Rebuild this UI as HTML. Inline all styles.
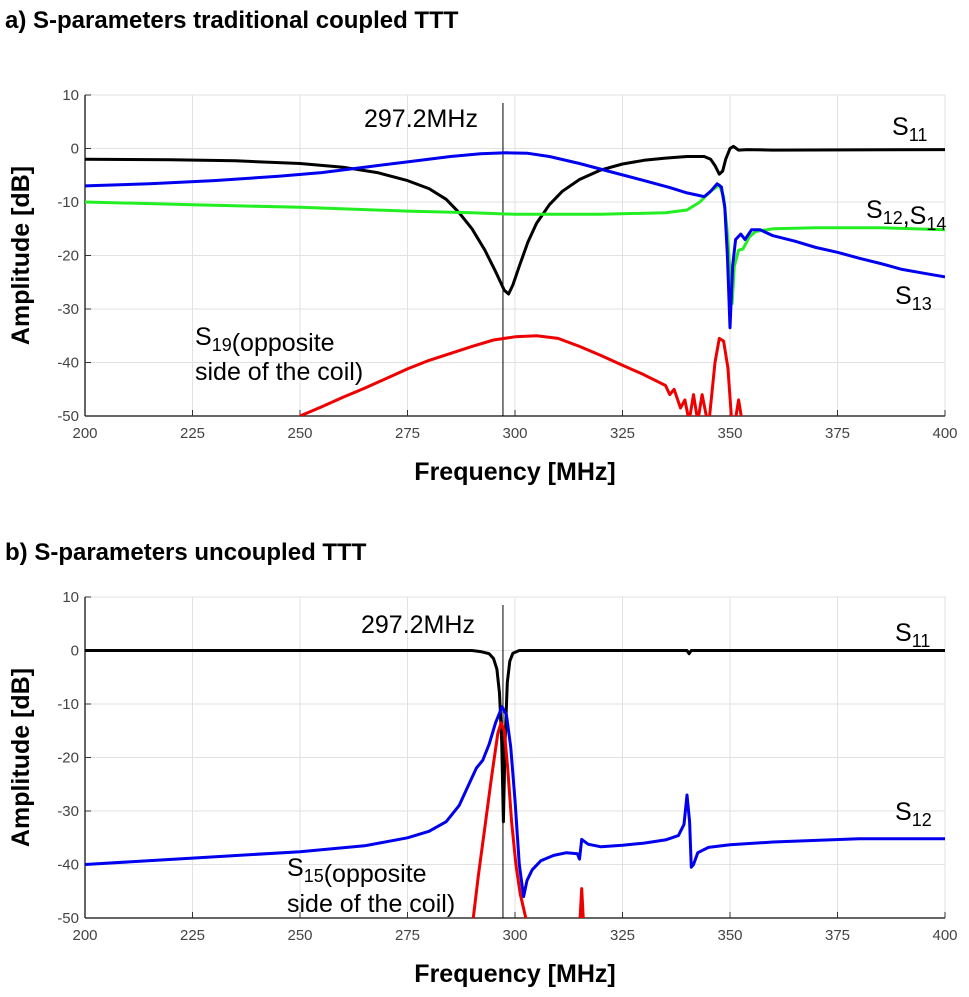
<!DOCTYPE html>
<html><head><meta charset="utf-8"><style>
body{margin:0;background:#fff;width:969px;height:997px;overflow:hidden}
svg{display:block}
.t{font-family:"Liberation Sans",sans-serif}
</style></head><body>
<svg id="s" width="969" height="997" xmlns="http://www.w3.org/2000/svg">
<text x="5" y="28" class="t" font-size="24" font-weight="bold">a) S-parameters traditional coupled TTT</text>
<text x="5" y="560" class="t" font-size="24" font-weight="bold">b) S-parameters uncoupled TTT</text>
</svg>
<script>
const xTicks=[200,225,250,275,300,325,350,375,400];
const yTicks=[10,0,-10,-20,-30,-40,-50];
const markerFreq=297.2;
const aS11=[[200,-2],[220,-2.1],[235,-2.3],[250,-2.8],[260,-3.5],[268,-4.5],[275,-6],[280,-7.5],[284,-9.5],[287,-12],[290,-15],[293,-19],[295.5,-23],[297.5,-26.5],[298.5,-27.2],[299.5,-25.5],[301,-22],[303,-17.5],[305,-14],[308,-10.5],[311,-8],[315,-5.8],[320,-4],[325,-2.9],[330,-2.2],[335,-1.8],[340,-1.5],[344,-1.5],[345.5,-2],[346.5,-3.2],[347.5,-4.8],[348.3,-4.2],[349,-2],[350,0],[350.8,0.4],[352,-0.3],[354,-0.2],[360,-0.3],[400,-0.2]];
const aS13=[[200,-7],[215,-6.6],[230,-6],[245,-5.2],[255,-4.5],[265,-3.5],[275,-2.5],[285,-1.5],[292,-1],[298,-0.8],[303,-0.9],[308,-1.5],[315,-2.8],[322,-4.3],[330,-6],[336,-7.3],[340,-8.3],[344,-9],[345.5,-8],[347,-6.6],[348,-7.2],[348.8,-11],[349.4,-20],[350,-33.5],[350.6,-22],[351.3,-17],[352.5,-16],[353.5,-17],[355,-15.2],[357,-15.2],[360,-16.3],[365,-17.3],[370,-18.5],[375,-19.4],[380,-20.5],[385,-21.5],[390,-22.6],[395,-23.3],[400,-24]];
const aS12=[[200,-10],[225,-10.5],[250,-11],[275,-11.7],[290,-12],[300,-12.3],[320,-12.3],[335,-12],[340,-11.5],[343,-10],[345.5,-8],[347.5,-6.8],[348.5,-9],[349.3,-15],[350,-23],[350.5,-29],[351,-22],[352,-19],[353,-18.8],[354.5,-16.5],[356,-15.5],[360,-15],[370,-14.8],[385,-14.8],[400,-15.2]];
const aS19=[[250,-50],[255,-48.3],[260,-46.5],[265,-44.8],[270,-43],[275,-41.2],[280,-39.6],[285,-38.3],[290,-37],[295,-35.8],[300,-35.2],[305,-35],[310,-35.5],[315,-37],[320,-38.7],[325,-40.5],[330,-42.3],[333,-43.5],[335,-44.3],[336,-46],[337,-45],[338.5,-48.5],[339.5,-47],[340.5,-51],[341.5,-46],[342.5,-51],[343.5,-46],[345,-52],[346.5,-40],[347.5,-35.5],[348.5,-36],[349.5,-41],[350.5,-52],[351,-52],[352,-47],[353,-52],[355,-51],[356,-52]];
const bS11=[[200,0],[290,0],[292,-0.2],[294,-0.6],[295,-1.5],[295.8,-3.5],[296.4,-8],[296.9,-17],[297.3,-32],[297.7,-17],[298.2,-6],[298.8,-2],[299.5,-0.5],[301,0],[340,0],[340.5,-0.6],[341,0],[400,0]];
const bS12=[[200,-40],[225,-38.8],[250,-37.6],[265,-36.5],[275,-35],[280,-33.8],[284,-32],[287,-29],[289,-25.5],[291,-22],[292.5,-20.5],[294,-17.5],[295.5,-13.5],[297,-10.5],[298,-12],[299,-18],[300,-28],[301,-40],[302,-46],[302.8,-43],[304,-41],[306,-39.3],[309,-38.3],[312,-37.8],[314.5,-38],[315,-39],[315.5,-35.3],[317,-36.2],[320,-36.7],[325,-36.4],[330,-36],[335,-35.4],[338,-34.6],[339.3,-32.5],[340,-27],[340.6,-32],[341,-40.5],[341.5,-40],[342.5,-37.8],[345,-36.8],[350,-36.3],[360,-35.8],[380,-35.2],[400,-35.2]];
const bS15=[[290,-52],[291.5,-42],[293,-33],[294.5,-24],[296,-15.5],[296.8,-13.5],[297.5,-15],[298.3,-22],[299.2,-32],[300.2,-40],[301.2,-45.5],[302.5,-50],[303.5,-52],[315,-52],[315.5,-44.5],[316,-52]];

const NS="http://www.w3.org/2000/svg";
const svg=document.getElementById('s');
function mk(tag,at,parent){const e=document.createElementNS(NS,tag);for(const k in at)e.setAttribute(k,at[k]);(parent||svg).appendChild(e);return e;}
function panel(id,top,series,labels){
  const L=85,R=945,T=top,B=top+321;
  const sx=f=>L+(f-200)/200*(R-L);
  const sy=v=>T+(10-v)/60*(B-T);
  const g=mk('g',{});
  
  
  const cp=mk('clipPath',{id:'c'+id},g);mk('rect',{x:L,y:T-2,width:R-L,height:B-T+2},cp);
  xTicks.forEach(f=>{
    const l=mk('line',{x1:sx(f),x2:sx(f),y1:T,y2:B,stroke:'#e2e2e2','stroke-width':1},g);
    
    mk('line',{x1:sx(f),x2:sx(f),y1:B,y2:B-6,stroke:'#333'},g);
    const t=mk('text',{x:sx(f),y:B+22,'text-anchor':'middle','font-size':15,fill:'#444',class:'t'},g);t.textContent=f;
    
  });
  yTicks.forEach(v=>{
    const l=mk('line',{x1:L,x2:R,y1:sy(v),y2:sy(v),stroke:'#e2e2e2'},g);
    
    mk('line',{x1:L,x2:L+6,y1:sy(v),y2:sy(v),stroke:'#333'},g);
    const t=mk('text',{x:L-6,y:sy(v)+5,'text-anchor':'end','font-size':15,fill:'#444',class:'t'},g);t.textContent=v;
    
  });
  mk('line',{x1:L,x2:L,y1:T,y2:B,stroke:'#333','stroke-width':1.5},g);
  mk('line',{x1:L,x2:R,y1:B,y2:B,stroke:'#333','stroke-width':1.5},g);
  const m=mk('line',{x1:sx(markerFreq),x2:sx(markerFreq),y1:T+8,y2:B,stroke:'#000','stroke-width':1},g);
  
  series.forEach(([d,c,n])=>{
    const p=mk('polyline',{points:d.map(q=>sx(q[0]).toFixed(1)+','+sy(q[1]).toFixed(1)).join(' '),fill:'none',stroke:c,'stroke-width':3,'stroke-linejoin':'round','clip-path':'url(#c'+id+')'},g);
    
  });
  const yl=mk('text',{x:0,y:0,transform:`translate(29,${(T+B)/2}) rotate(-90)`,'text-anchor':'middle','font-size':25,'font-weight':'bold',class:'t'},g);
  yl.textContent='Amplitude [dB]';
  const xl=mk('text',{x:515,y:B+64,'text-anchor':'middle','font-size':25,'font-weight':'bold',class:'t'},g);
  xl.textContent='Frequency [MHz]';
  labels.forEach(([x,y,html,n])=>{
    const t=mk('text',{x:x,y:y,'font-size':25,class:'t'},g);t.innerHTML=html;
    
  });
}
const sub=s=>`<tspan font-size="18" dy="6">${s}</tspan><tspan dy="-6"></tspan>`;
panel('a',95,[[aS11,'#000','s11-line'],[aS12,'#22ee22','s12-s14-line'],[aS13,'#0000ee','s13-line'],[aS19,'#ee0000','s19-line']],[
 [364,127,'297.2MHz','marker-label'],[892,135,'S'+sub('11'),'s11-label'],[866,218,'S'+sub('12')+',S'+sub('14'),'s12-s14-label'],
 [895,304,'S'+sub('13'),'s13-label'],[195,345,'S'+sub('19')+'(opposite','s19-label'],[195,380,'side of the coil)','s19-label-2']]);
panel('b',597,[[bS11,'#000','s11-line'],[bS15,'#ee0000','s15-line'],[bS12,'#0000ee','s12-line']],[
 [361,633,'297.2MHz','marker-label'],[895,641,'S'+sub('11'),'s11-label'],[895,820,'S'+sub('12'),'s12-label'],
 [287,876,'S'+sub('15')+'(opposite','s15-label'],[287,912,'side of the coil)','s15-label-2']]);
</script>
</body></html>
